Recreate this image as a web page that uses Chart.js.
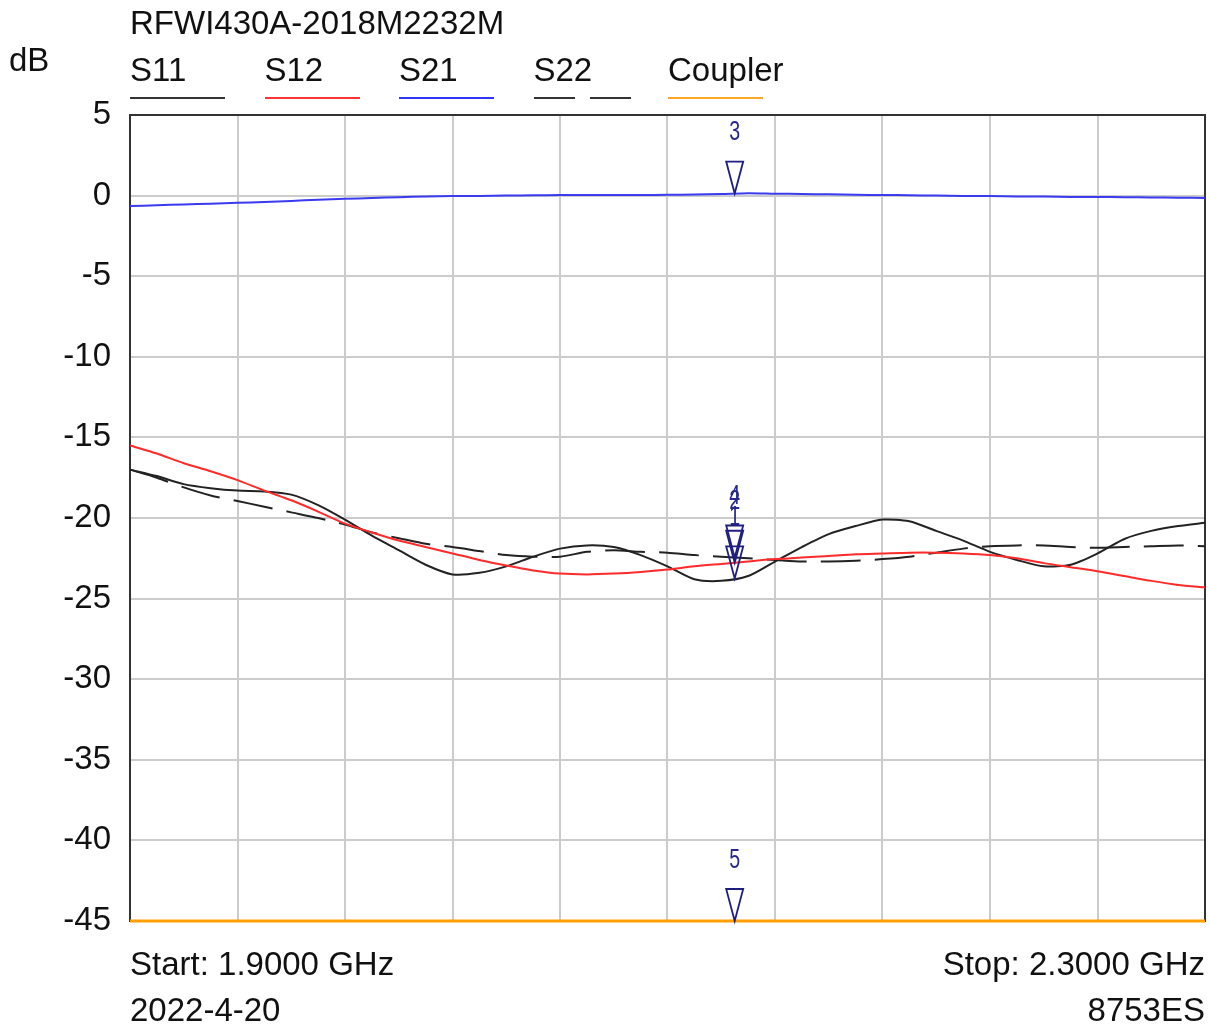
<!DOCTYPE html>
<html><head><meta charset="utf-8">
<script src="https://cdn.jsdelivr.net/npm/chart.js@4/dist/chart.umd.min.js"></script>
<style>
html,body{margin:0;padding:0;background:#fff;}
#wrap{position:relative;width:1210px;height:1035px;overflow:hidden;font-family:"Liberation Sans",Arial,sans-serif;color:#111;}
#c{position:absolute;left:0;top:0;}
.t{position:absolute;font-size:33px;line-height:33px;white-space:nowrap;}
.ln{position:absolute;top:97px;width:95px;height:0;border-top:2px solid #222;}
</style></head><body>
<div id="wrap">
<canvas id="c" width="1210" height="1035"></canvas>
<div class="t" id="title" style="left:130px;top:6px;"></div>
<div class="t" style="left:9px;top:43px;">dB</div>
<div id="legend"></div>
<div class="t" id="start" style="left:130px;top:947px;"></div>
<div class="t" id="stop" style="right:5px;top:947px;"></div>
<div class="t" id="date" style="left:130px;top:993px;"></div>
<div class="t" id="model" style="right:5px;top:993px;"></div>
</div>
<script>
const chartTitle = "RFWI430A-2018M2232M";
const startText = "Start: 1.9000 GHz";
const stopText = "Stop: 2.3000 GHz";
const dateText = "2022-4-20";
const modelText = "8753ES";

const freqGHz = [1.90,1.91,1.92,1.93,1.94,1.95,1.96,1.97,1.98,1.99,
  2.00,2.01,2.02,2.03,2.04,2.05,2.06,2.07,2.08,2.09,
  2.10,2.11,2.12,2.13,2.14,2.15,2.16,2.17,2.18,2.19,
  2.20,2.21,2.22,2.23,2.24,2.25,2.26,2.27,2.28,2.29,2.30];

const s11 = [-17.0,-17.4,-17.9,-18.15,-18.3,-18.35,-18.55,-19.2,-20.1,-21.1,
  -22.0,-22.9,-23.5,-23.4,-23.0,-22.4,-21.9,-21.7,-21.8,-22.3,
  -23.0,-23.8,-23.9,-23.6,-22.7,-21.8,-21.0,-20.5,-20.1,-20.2,
  -20.8,-21.4,-22.1,-22.6,-23.0,-22.9,-22.2,-21.3,-20.8,-20.5,-20.3];

const s12 = [-15.5,-16.0,-16.6,-17.1,-17.65,-18.3,-18.9,-19.6,-20.35,-20.9,
  -21.4,-21.8,-22.2,-22.6,-22.95,-23.25,-23.45,-23.5,-23.45,-23.35,
  -23.2,-23.0,-22.85,-22.7,-22.55,-22.45,-22.35,-22.25,-22.2,-22.15,
  -22.15,-22.2,-22.3,-22.5,-22.8,-23.05,-23.3,-23.6,-23.9,-24.15,-24.3];

const s21 = [-0.65,-0.6,-0.55,-0.5,-0.45,-0.4,-0.33,-0.26,-0.2,-0.15,
  -0.1,-0.06,-0.03,-0.02,0.0,0.02,0.03,0.03,0.04,0.04,
  0.05,0.07,0.1,0.15,0.12,0.1,0.08,0.05,0.04,0.02,
  0.0,-0.02,-0.03,-0.05,-0.06,-0.08,-0.09,-0.1,-0.12,-0.13,-0.15];

const s22 = [-17.0,-17.5,-18.1,-18.6,-18.95,-19.3,-19.65,-20.0,-20.4,-20.9,
  -21.25,-21.6,-21.8,-22.05,-22.3,-22.4,-22.4,-22.1,-22.0,-22.1,
  -22.15,-22.3,-22.4,-22.5,-22.6,-22.7,-22.7,-22.65,-22.55,-22.4,
  -22.15,-21.9,-21.75,-21.7,-21.7,-21.8,-21.85,-21.8,-21.75,-21.7,-21.75];

const coupler = [-45,-45,-45,-45,-45,-45,-45,-45,-45,-45,
  -45,-45,-45,-45,-45,-45,-45,-45,-45,-45,
  -45,-45,-45,-45,-45,-45,-45,-45,-45,-45,
  -45,-45,-45,-45,-45,-45,-45,-45,-45,-45,-45];

const seriesNames = ["S11","S12","S21","S22","Coupler"];
const seriesValues = [s11, s12, s21, s22, coupler];
const seriesColors = ["#222222","#ff2a2a","#3a3af0","#222222","#ffa000"];
const legendLineColors = ["#333333","#ff3333","#3333ff","#333333","#ffa726"];
const seriesDash = [[],[],[],[40,14],[]];
const seriesWidths = [2,2,2,2,3];

const yTicks = [5,0,-5,-10,-15,-20,-25,-30,-35,-40,-45];

const markerFreq = 2.125;
const markerLabels = ["1","2","3","4","5"];
const markerSeries = [0,1,2,3,4];

// texts
document.getElementById('title').textContent = chartTitle;
document.getElementById('start').textContent = startText;
document.getElementById('stop').textContent = stopText;
document.getElementById('date').textContent = dateText;
document.getElementById('model').textContent = modelText;
const leg = document.getElementById('legend');
seriesNames.forEach((n,i)=>{
  const x = 130 + i*134.5;
  const t = document.createElement('div');
  t.className='t'; t.style.left = x+'px'; t.style.top='53px'; t.textContent = n;
  leg.appendChild(t);
  if (seriesDash[i].length) {
    [0,56].forEach(off=>{
      const l = document.createElement('div');
      l.className='ln'; l.style.left=(x+off)+'px'; l.style.width='41px';
      l.style.borderTopColor = legendLineColors[i];
      leg.appendChild(l);
    });
  } else {
    const l = document.createElement('div');
    l.className='ln'; l.style.left=x+'px'; l.style.borderTopColor = legendLineColors[i];
    leg.appendChild(l);
  }
});

const order = [4,2,1,3,0];
const datasets = order.map(i=>({
  label: seriesNames[i],
  data: freqGHz.map((f,k)=>({x:f,y:seriesValues[i][k]})),
  borderColor: seriesColors[i],
  borderWidth: seriesWidths[i],
  borderDash: seriesDash[i],
  pointRadius: 0,
  tension: 0.25,
  fill: false,
  clip: 3
}));

function interp(vals, f){
  for (let k=0;k<freqGHz.length-1;k++){
    if (f>=freqGHz[k] && f<=freqGHz[k+1]){
      const t=(f-freqGHz[k])/(freqGHz[k+1]-freqGHz[k]);
      return vals[k]+(vals[k+1]-vals[k])*t;
    }
  }
  return vals[vals.length-1];
}

const framePlugin = {
  id:'frame',
  beforeDatasetsDraw(chart){
    const {ctx, chartArea:a} = chart;
    ctx.save();
    ctx.strokeStyle = '#333';
    ctx.lineWidth = 2;
    ctx.strokeRect(a.left, a.top, a.right-a.left, a.bottom-a.top);
    ctx.restore();
  }
};

const markerPlugin = {
  id:'markers',
  afterDatasetsDraw(chart){
    const {ctx, scales:{x,y}} = chart;
    ctx.save();
    markerLabels.forEach((lab,m)=>{
      const v = interp(seriesValues[markerSeries[m]], markerFreq);
      const px = x.getPixelForValue(markerFreq);
      const py = y.getPixelForValue(v);
      ctx.strokeStyle = '#1e1e80';
      ctx.lineWidth = 1.8;
      ctx.beginPath();
      ctx.moveTo(px-8.5, py-32);
      ctx.lineTo(px+8.5, py-32);
      ctx.lineTo(px, py);
      ctx.closePath();
      ctx.stroke();
      ctx.save();
      ctx.translate(px, py-61);
      ctx.scale(0.7, 1);
      ctx.fillStyle = '#28288c';
      ctx.font = '28px "Liberation Sans", Arial, sans-serif';
      ctx.textAlign = 'center';
      ctx.textBaseline = 'middle';
      ctx.fillText(lab, 0, 0);
      ctx.restore();
    });
    ctx.restore();
  }
};

new Chart(document.getElementById('c'), {
  type:'line',
  data:{datasets},
  options:{
    responsive:false,
    animation:false,
    layout:{padding:{top:115,right:5,bottom:114,left:0}},
    plugins:{legend:{display:false},tooltip:{enabled:false},title:{display:false}},
    scales:{
      x:{type:'linear',min:1.9,max:2.3,
        ticks:{display:false,stepSize:0.04},
        grid:{color:'#cccccc',lineWidth:2,drawTicks:false},
        border:{display:false},
        afterFit(s){s.height=0;}
      },
      y:{type:'linear',min:-45,max:5,
        afterBuildTicks(s){s.ticks = yTicks.map(v=>({value:v}));},
        ticks:{color:'#111',font:{size:33,family:'"Liberation Sans", Arial, sans-serif'},padding:19,autoSkip:false},
        grid:{color:'#cccccc',lineWidth:2,drawTicks:false},
        border:{display:false},
        afterFit(s){s.width=130;}
      }
    }
  },
  plugins:[framePlugin, markerPlugin]
});
</script>
</body></html>
